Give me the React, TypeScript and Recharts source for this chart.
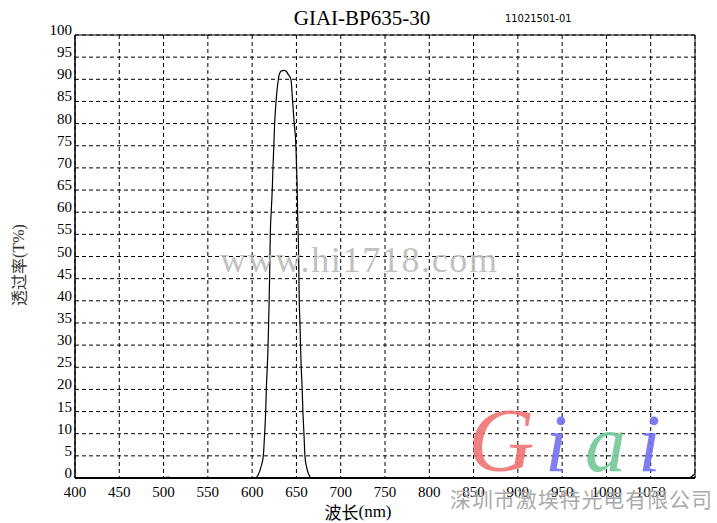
import { LineChart, Line, XAxis, YAxis, CartesianGrid, ReferenceLine } from "recharts";

// wavelength (nm) and transmittance (%)
const wavelength = [
  400, 500, 505, 510, 600, 603.4, 607, 610, 612.6, 614.1, 615.3, 616, 617.1, 618, 618.6, 619.2, 619.7, 620.1, 620.5,
  621.5, 622.7, 623.5, 624.5, 625.4, 627, 629.6, 630.6, 633, 636.2, 638.5, 640.7, 643.8, 645.7, 647.5, 649.4, 650.2,
  650.9, 651.3, 652, 652.5, 652.8, 653.2, 654, 654.6, 655.4, 656.5, 657.3, 658.5, 659.6, 661.4, 664, 667, 1092, 1100,
];
const transmittance = [
  0, 0, 0.2, 0, 0, 0, 0.8, 2.5, 5, 10, 15, 20, 25, 30, 35, 40, 45, 50, 55,
  60, 65, 70, 75, 80, 85, 90, 91.1, 91.9, 92, 91.8, 91.1, 90, 85, 80, 75, 70,
  65, 60, 55, 50, 45, 40, 35, 30, 25, 20, 15, 10, 5, 2.5, 0.8, 0, 0, 1,
];
const xTicks = [400, 450, 500, 550, 600, 650, 700, 750, 800, 850, 900, 950, 1000, 1050];
const yTicks = [0, 5, 10, 15, 20, 25, 30, 35, 40, 45, 50, 55, 60, 65, 70, 75, 80, 85, 90, 95, 100];

const data = wavelength.map((w, i) => ({ w, t: transmittance[i] }));

const serif = "'Liberation Serif', 'DejaVu Serif', serif";
const cjk = "'Noto Sans CJK SC', sans-serif";

function XTick({ x, y, payload }: any) {
  return (
    <text x={x} y={y + 6} textAnchor="middle" dominantBaseline="central" fontSize={15} fontFamily={serif} fill="#000">
      {payload.value}
    </text>
  );
}

function YTick({ x, y, payload }: any) {
  return (
    <text x={x + 5} y={y - 5} textAnchor="end" dominantBaseline="central" fontSize={15} fontFamily={serif} fill="#000">
      {payload.value}
    </text>
  );
}

export default function App() {
  return (
    <div style={{ position: "absolute", left: 0, top: 0, width: 717, height: 523, background: "#fff" }}>
      <LineChart width={717} height={523} data={data} margin={{ top: 35, right: 22, bottom: 0, left: 0 }}>
        <CartesianGrid stroke="#000" strokeDasharray="4 3" />
        <XAxis
          dataKey="w"
          type="number"
          domain={[400, 1100]}
          ticks={xTicks}
          interval={0}
          height={45}
          tickLine={false}
          axisLine={{ stroke: "#000", strokeWidth: 2 }}
          tick={<XTick />}
          allowDataOverflow
        />
        <YAxis
          domain={[0, 100]}
          ticks={yTicks}
          interval={0}
          width={75}
          tickLine={false}
          axisLine={{ stroke: "#000", strokeWidth: 1.5 }}
          tick={<YTick />}
          allowDataOverflow
        />
        <ReferenceLine y={100} stroke="#000" strokeWidth={1} />
        <ReferenceLine x={1100} stroke="#000" strokeWidth={1} />
        <Line dataKey="t" type="monotone" stroke="#000" strokeWidth={1.2} dot={false} isAnimationActive={false} />
      </LineChart>

      <svg width={717} height={523} style={{ position: "absolute", left: 0, top: 0, pointerEvents: "none" }}>
        <text x={362} y={25} textAnchor="middle" fontSize={21} fontFamily={serif} fill="#000">
          GIAI-BP635-30
        </text>
        <text x={505} y={22} fontSize={11} fontFamily="'Liberation Sans Narrow', 'DejaVu Sans Condensed', sans-serif" fill="#000">
          11021501-01
        </text>
        <text
          x={18}
          y={265}
          transform="rotate(-90 18 265)"
          textAnchor="middle"
          dominantBaseline="central"
          fontSize={16}
          fontFamily={cjk}
          fill="#333"
        >
          透过率<tspan fontFamily={serif}>(T%)</tspan>
        </text>
        <text x={358} y={511} textAnchor="middle" dominantBaseline="central" fontSize={17} fontFamily={cjk} fill="#000">
          波长<tspan fontFamily={serif}>(nm)</tspan>
        </text>
        <text x={220} y={272} fontSize={36} fontFamily={serif} fill="#bbb" textLength={277} lengthAdjust="spacing" opacity={0.9}>
          www.hi1718.com
        </text>
        <text x={450} y={507} fontSize={21} fontFamily={cjk} fill="#aaa" textLength={262} lengthAdjust="spacing">
          深圳市激埃特光电有限公司
        </text>
        <g fontFamily={serif} fontStyle="italic" opacity={0.9}>
          <text x={468} y={471} fontSize={92} fill="#f07474">G</text>
          <text x={545} y={471} fontSize={82} fill="#7272f0">i</text>
          <text x={585} y={471} fontSize={82} fill="#72c896">a</text>
          <text x={638} y={471} fontSize={82} fill="#7272f0">i</text>
        </g>
      </svg>
    </div>
  );
}
